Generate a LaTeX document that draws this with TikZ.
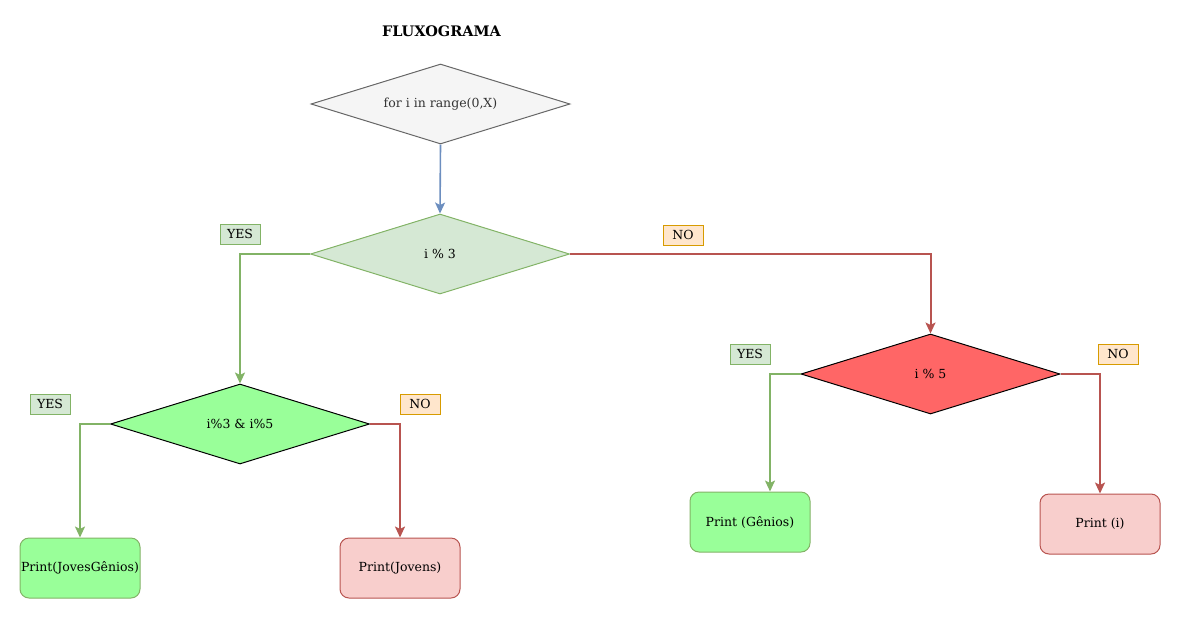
\documentclass[tikz,border=0pt]{standalone}
\usepackage{fontspec}
\setmainfont{DejaVu Serif}
\usetikzlibrary{shapes.geometric, arrows.meta}
\definecolor{grayfill}{HTML}{F5F5F5}
\definecolor{graystroke}{HTML}{666666}
\definecolor{graytext}{HTML}{333333}
\definecolor{greenfill}{HTML}{D5E8D4}
\definecolor{greenstroke}{HTML}{82B366}
\definecolor{lightgreen}{HTML}{99FF99}
\definecolor{redfill}{HTML}{F8CECC}
\definecolor{redstroke}{HTML}{B85450}
\definecolor{brightred}{HTML}{FF6666}
\definecolor{orangefill}{HTML}{FFE6CC}
\definecolor{orangestroke}{HTML}{D79B00}
\definecolor{bluestroke}{HTML}{6C8EBF}

\begin{document}
\begin{tikzpicture}[x=1pt, y=-1pt,
			>={Stealth[length=11pt, width=10pt, inset=2.5pt]},
			font=\fontsize{12.5}{15}\selectfont,
			every node/.style={line width=1pt},
			decision/.style={diamond, aspect=3.25, draw, inner sep=0pt, minimum width=259pt, minimum height=80pt},
			printbox/.style={draw, rounded corners=9pt, minimum width=120pt, minimum height=60pt, inner sep=0pt},
			yeslabel/.style={draw=greenstroke, fill=greenfill, minimum width=40pt, minimum height=20pt, inner sep=0pt},
			nolabel/.style={draw=orangestroke, fill=orangefill, minimum width=40pt, minimum height=20pt, inner sep=0pt},
			yesarrow/.style={->, draw=greenstroke, line width=2pt},
			noarrow/.style={->, draw=redstroke, line width=2pt}]
			% Bildbereich
			\useasboundingbox (0,0) rectangle (1182,619);
			% Titel
			\node[font=\fontsize{14.5}{17}\selectfont\bfseries] (titel) at (441.5,31) {FLUXOGRAMA};
			% Entscheidungen
			\node[decision, fill=grayfill, draw=graystroke, text=graytext] (loop) at (440.5,104) {for i in range(0,X)};
			\node[decision, fill=greenfill, draw=greenstroke] (mod3) at (440,254) {i \% 3};
			\node[decision, fill=lightgreen, draw=black] (mod15) at (240,424) {i\%3 \& i\%5};
			\node[decision, fill=brightred, draw=black] (mod5) at (930.5,374) {i \% 5};
			% Ausgaben
			\node[printbox, fill=lightgreen, draw=greenstroke] (jovesgenios) at (80,568) {Print(JovesGênios)};
			\node[printbox, fill=redfill, draw=redstroke] (jovens) at (400,568) {Print(Jovens)};
			\node[printbox, fill=lightgreen, draw=greenstroke] (genios) at (750,522) {Print (Gênios)};
			\node[printbox, fill=redfill, draw=redstroke] (printi) at (1100,524) {Print (i)};
			% Beschriftung
			\node[yeslabel] (yes3) at (240,234) {YES};
			\node[nolabel] (no3) at (683,235) {NO};
			\node[yeslabel] (yes15) at (50,404) {YES};
			\node[nolabel] (no15) at (420,404) {NO};
			\node[yeslabel] (yes5) at (750,354) {YES};
			\node[nolabel] (no5) at (1118,354) {NO};
			% Pfeile
			\draw[->, draw=bluestroke, line width=1.6pt] (loop.south) -- (mod3.north);
			\draw[yesarrow] (mod3.west) -| (mod15.north);
			\draw[noarrow] (mod3.east) -| (mod5.north);
			\draw[yesarrow] (mod15.west) -| (jovesgenios.north);
			\draw[noarrow] (mod15.east) -| (jovens.north);
			\draw[yesarrow] (mod5.west) -| ([xshift=20pt]genios.north);
			\draw[noarrow] (mod5.east) -| (printi.north);
\end{tikzpicture}
\end{document}
